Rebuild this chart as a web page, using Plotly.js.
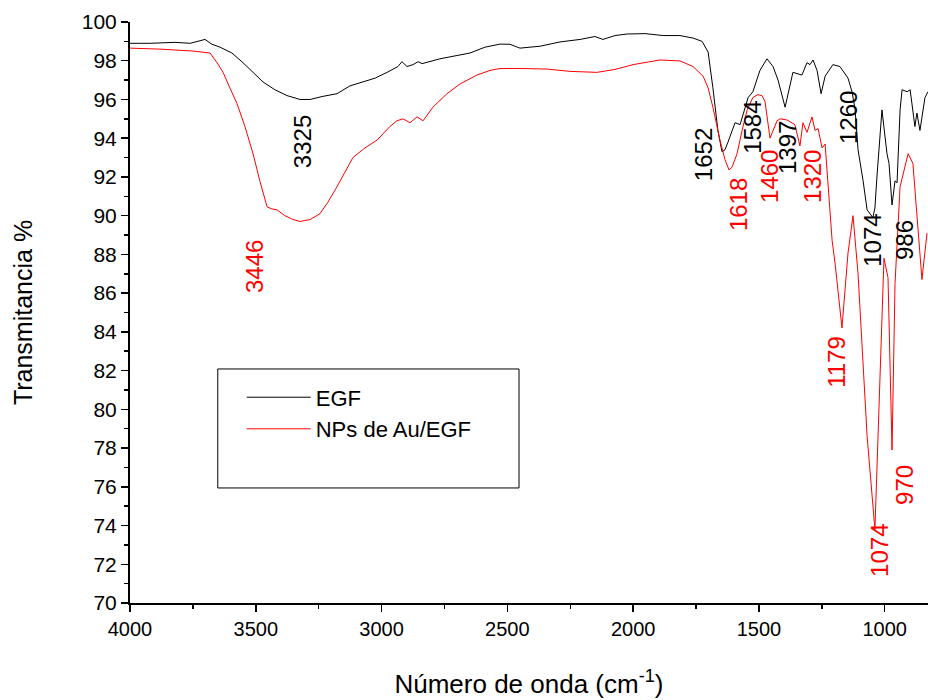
<!DOCTYPE html>
<html>
<head>
<meta charset="utf-8">
<script src="https://cdn.plot.ly/plotly-3.0.1.min.js"></script>
<style>html,body{margin:0;padding:0;background:#fff;}#chart{width:928px;height:700px;}</style>
</head>
<body>
<div id="chart"></div>
<script>
// EGF spectrum (wavenumber cm-1, transmittance %)
var egfX = [4000,3920,3821,3761,3702,3674,3642,3595,3551,3511,3471,3424,3376,3324,3284,3237,3177,3126,3086,3026,2978,2935,2919,2899,2875,2855,2839,2768,2648,2589,2529,2490,2450,2370,2291,2211,2152,2120,2072,2024,1953,1881,1814,1762,1726,1702,1683,1663,1647,1635,1623,1595,1575,1555,1543,1524,1496,1468,1444,1424,1396,1365,1329,1309,1297,1285,1269,1253,1237,1206,1178,1146,1130,1118,1106,1086,1070,1047,1039,1031,1011,991,983,971,959,951,939,931,911,899,880,872,860,840,828];
var egfY = [98.9,98.9,98.95,98.9,99.1,98.85,98.7,98.4,97.9,97.4,96.9,96.5,96.2,96.0,96.0,96.15,96.3,96.7,96.85,97.1,97.4,97.7,97.95,97.7,97.8,97.95,97.85,98.1,98.4,98.7,98.86,98.85,98.65,98.75,98.97,99.1,99.25,99.1,99.3,99.38,99.4,99.3,99.3,99.17,99.0,98.45,96.6,94.4,93.3,93.4,93.8,94.8,94.7,95.6,96.1,96.4,97.5,98.1,97.7,97.0,95.6,97.4,97.26,97.9,97.8,98.04,97.5,96.3,97.2,97.8,97.7,97.1,96.4,95.5,93.4,91.8,90.3,89.9,90.4,92.0,95.46,93.2,92.7,90.55,91.8,91.7,95.46,96.5,96.4,96.5,94.6,95.3,94.4,96.1,96.4];

// NPs de Au/EGF spectrum
var npX = [4000,3881,3750,3702,3682,3654,3630,3603,3575,3543,3511,3484,3455,3436,3416,3384,3352,3324,3284,3245,3213,3177,3145,3114,3066,3018,2967,2939,2915,2887,2859,2835,2796,2740,2688,2621,2569,2529,2450,2342,2251,2144,2072,2000,1933,1893,1814,1762,1722,1702,1683,1655,1635,1619,1607,1587,1567,1547,1524,1504,1488,1476,1456,1428,1416,1388,1357,1337,1325,1309,1289,1277,1265,1249,1237,1225,1209,1197,1170,1146,1126,1106,1070,1039,1019,1003,987,971,959,939,907,888,852,832];
var npY = [98.65,98.6,98.5,98.45,98.4,97.9,97.4,96.6,95.8,94.6,93.2,91.8,90.45,90.35,90.3,90.0,89.8,89.7,89.8,90.1,90.7,91.5,92.3,93.0,93.5,93.9,94.6,94.9,95.0,94.8,95.1,94.9,95.6,96.3,96.8,97.26,97.5,97.6,97.6,97.57,97.45,97.4,97.55,97.8,97.95,98.04,97.99,97.7,97.2,96.6,95.6,93.9,92.9,92.36,92.5,93.2,94.4,95.46,96.1,96.25,96.2,95.9,94.0,94.9,95.0,94.94,94.7,93.6,94.8,94.3,95.1,94.4,94.5,93.5,93.7,91.5,88.7,87.5,84.2,88.07,90.0,87.0,78.6,73.8,81.4,87.8,86.8,77.9,86.5,91.5,93.2,92.7,86.7,89.1];

// Peak labels
var peakText  = ["3325","3446","1652","1618","1584","1460","1397","1320","1260","1074","986","1179","970","1074"];
var peakSeries = ["EGF","NP","EGF","NP","EGF","NP","EGF","NP","EGF","EGF","EGF","NP","NP","NP"];
var peakPosX = [3316,3503,1722,1583,1524,1456,1384,1285,1146,1047,919,1190,919,1019];
var peakPosY = [93.8,87.35,93.13,90.55,94.58,92.0,93.5,92.0,95.04,88.75,88.75,82.45,76.1,72.74];

var FONT = "Arial, 'Liberation Sans', sans-serif";

var traces = [
  {x: egfX, y: egfY, type: 'scatter', mode: 'lines', name: 'EGF', line: {color: '#000000', width: 1}},
  {x: npX, y: npY, type: 'scatter', mode: 'lines', name: 'NPs de Au/EGF', line: {color: '#ff0000', width: 1}}
];

var annotations = peakText.map(function(t, i) {
  return {
    x: peakPosX[i], y: peakPosY[i], xref: 'x', yref: 'y',
    text: t, textangle: -90, showarrow: false,
    font: {family: FONT, size: 24, color: peakSeries[i] === 'EGF' ? '#000000' : '#ff0000'},
    xanchor: 'center', yanchor: 'middle'
  };
});

var layout = {
  width: 928, height: 700,
  margin: {l: 130, r: 0, t: 22, b: 97},
  paper_bgcolor: '#ffffff', plot_bgcolor: '#ffffff',
  font: {family: FONT, color: '#000000'},
  showlegend: true,
  legend: {
    x: 0.14, y: 0.39, xanchor: 'left', yanchor: 'top',
    bgcolor: 'rgba(0,0,0,0)', borderwidth: 0,
    font: {family: FONT, size: 22, color: '#000000'},
    itemwidth: 64, tracegroupgap: 0
  },
  shapes: [{
    type: 'rect', xref: 'paper', yref: 'paper',
    x0: 0.110, x1: 0.4875, y0: 0.198, y1: 0.4028,
    line: {color: '#000000', width: 1}, fillcolor: 'rgba(0,0,0,0)'
  }],
  xaxis: {
    range: [4000, 828], autorange: false,
    tickmode: 'array', tickvals: [4000,3500,3000,2500,2000,1500,1000],
    ticktext: ['4000','3500','3000','2500','2000','1500','1000'],
    ticks: 'outside', ticklen: 7, tickwidth: 1.5, tickcolor: '#000',
    minor: {tickvals: [3750,3250,2750,2250,1750,1250], ticks: 'outside', ticklen: 4, tickcolor: '#000', tickwidth: 1.5},
    showline: true, linecolor: '#000', linewidth: 2, mirror: false,
    showgrid: false, zeroline: false,
    tickfont: {family: FONT, size: 20, color: '#000'},
    title: {text: 'Número de onda (cm<sup>-1</sup>)', font: {family: FONT, size: 26, color: '#000'}, standoff: 36}
  },
  yaxis: {
    range: [70, 100], autorange: false,
    tickmode: 'linear', tick0: 70, dtick: 2,
    ticks: 'outside', ticklen: 7, tickwidth: 1.5, tickcolor: '#000',
    minor: {dtick: 1, tick0: 70, ticks: 'outside', ticklen: 4, tickcolor: '#000', tickwidth: 1.5},
    showline: true, linecolor: '#000', linewidth: 2, mirror: false,
    showgrid: false, zeroline: false,
    tickfont: {family: FONT, size: 21, color: '#000'},
    title: {text: 'Transmitancia %', font: {family: FONT, size: 25, color: '#000'}, standoff: 42}
  },
  annotations: annotations
};

Plotly.newPlot('chart', traces, layout, {displayModeBar: false, staticPlot: true});
</script>
</body>
</html>
